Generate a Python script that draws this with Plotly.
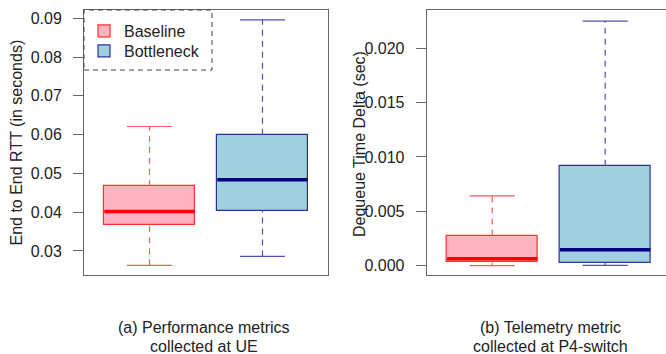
import plotly.graph_objects as go

# ---------------- data ----------------
groups = ["Baseline", "Bottleneck"]

# (a) End to End RTT (seconds)
rtt_lower = [0.0263, 0.0286]
rtt_q1 = [0.0367, 0.0404]
rtt_median = [0.0402, 0.0484]
rtt_q3 = [0.0468, 0.0600]
rtt_upper = [0.0621, 0.0896]

# (b) Dequeue time delta (seconds)
deq_lower = [0.0000, 0.00003]
deq_q1 = [0.0003, 0.00024]
deq_median = [0.00064, 0.00146]
deq_q3 = [0.00277, 0.0092]
deq_upper = [0.00643, 0.0225]

rtt_ticks = [0.03, 0.04, 0.05, 0.06, 0.07, 0.08, 0.09]
rtt_ticklabels = ["0.03", "0.04", "0.05", "0.06", "0.07", "0.08", "0.09"]
deq_ticks = [0.0, 0.005, 0.010, 0.015, 0.020]
deq_ticklabels = ["0.000", "0.005", "0.010", "0.015", "0.020"]

captions_a = ["(a) Performance metrics", "collected at UE"]
captions_b = ["(b) Telemetry metric", "collected at P4-switch"]
ytitle_a = "End to End RTT (in seconds)"
ytitle_b = "Dequeue Time Delta (sec)"

# ---------------- styles ----------------
W, H = 666, 354
FONT = "Liberation Sans, Arial, sans-serif"
TXT = "#222222"
FRAME = "#666666"
fills = ["#FFB3C1", "#A0CFE0"]
borders = ["#FF3030", "#30309A"]
whisk = ["#FF5A5A", "#5050B0"]
medians = ["#FF0000", "#000080"]
legend_ids = ["legend", "legend2"]
legend_tops = [14, 34]
BOXW = 0.8
CAPW = 0.4

fig = go.Figure()

def add_panel(xa, ya, lower, q1, med, q3, upper, legend):
    xs = [i + 1 for i in range(len(groups))]
    for i, g in enumerate(groups):
        x = xs[i]
        fig.add_trace(go.Bar(
            x=[x], y=[q3[i] - q1[i]], base=[q1[i]], width=BOXW,
            marker=dict(color=fills[i], line=dict(color=borders[i], width=1.2)),
            name=g, showlegend=legend, legend=legend_ids[i],
            xaxis=xa, yaxis=ya, hoverinfo="skip"))
        # whiskers (dashed)
        fig.add_trace(go.Scatter(
            x=[x, x, None, x, x], y=[q3[i], upper[i], None, lower[i], q1[i]],
            mode="lines", line=dict(color=whisk[i], width=1.2, dash="6px,5px"),
            showlegend=False, xaxis=xa, yaxis=ya, hoverinfo="skip"))
        # caps
        fig.add_trace(go.Scatter(
            x=[x - CAPW / 2, x + CAPW / 2, None, x - CAPW / 2, x + CAPW / 2],
            y=[upper[i], upper[i], None, lower[i], lower[i]],
            mode="lines", line=dict(color=whisk[i], width=1.2),
            showlegend=False, xaxis=xa, yaxis=ya, hoverinfo="skip"))
        # median
        fig.add_trace(go.Scatter(
            x=[x - BOXW / 2, x + BOXW / 2], y=[med[i], med[i]],
            mode="lines", line=dict(color=medians[i], width=3.5),
            showlegend=False, xaxis=xa, yaxis=ya, hoverinfo="skip"))

add_panel("x", "y", rtt_lower, rtt_q1, rtt_median, rtt_q3, rtt_upper, True)
add_panel("x2", "y2", deq_lower, deq_q1, deq_median, deq_q3, deq_upper, False)

def px_x(p):
    return p / W

def px_y(p):
    return 1 - p / H

ydom = [px_y(275), px_y(10)]
axis_common = dict(showgrid=False, zeroline=False, showline=True,
                   linecolor=FRAME, linewidth=1)
yaxis_common = dict(axis_common, ticks="outside", ticklen=10, tickcolor=FRAME,
                    tickwidth=1, ticklabelstandoff=8,
                    tickfont=dict(family=FONT, size=16, color=TXT))

legend_style = dict(xanchor="left", yanchor="top", bgcolor="rgba(0,0,0,0)",
                    borderwidth=0, font=dict(family=FONT, size=16, color=TXT),
                    itemwidth=30)

fig.update_layout(
    width=W, height=H, margin=dict(l=0, r=0, t=0, b=0),
    paper_bgcolor="white", plot_bgcolor="white",
    barmode="overlay", bargap=0,
    font=dict(family=FONT, size=16, color=TXT),
    xaxis=dict(axis_common, domain=[px_x(84), px_x(328)], range=[0.42, 2.58],
               mirror=True, showticklabels=False, ticks="", anchor="y"),
    xaxis2=dict(axis_common, domain=[px_x(426.7), 1.0],
                range=[0.42, 0.42 + (666 - 426.7) / (244 / 2.16)],
                mirror=True, showticklabels=False, ticks="", anchor="y2"),
    yaxis=dict(yaxis_common, domain=ydom, range=[0.02381, 0.09214],
               tickvals=rtt_ticks, ticktext=rtt_ticklabels, mirror=True, anchor="x"),
    yaxis2=dict(yaxis_common, domain=ydom, range=[-0.000856, 0.02352],
                tickvals=deq_ticks, ticktext=deq_ticklabels, mirror=False, anchor="x2"),
    legend=dict(legend_style, x=px_x(84), y=px_y(legend_tops[0])),
    legend2=dict(legend_style, x=px_x(84), y=px_y(legend_tops[1])),
    showlegend=True,
)

# dashed legend frame
fig.add_shape(type="rect", xref="paper", yref="paper",
              x0=px_x(84), x1=px_x(212), y0=px_y(70), y1=px_y(10),
              line=dict(color="#444444", width=1, dash="5px,4px"))

# axis titles
fig.add_annotation(text=ytitle_a, xref="paper", yref="paper", x=px_x(16), y=px_y(142.5),
                   textangle=-90, showarrow=False, xanchor="center", yanchor="middle",
                   font=dict(family=FONT, size=16, color=TXT))
fig.add_annotation(text=ytitle_b, xref="paper", yref="paper", x=px_x(359), y=px_y(144),
                   textangle=-90, showarrow=False, xanchor="center", yanchor="middle",
                   font=dict(family=FONT, size=16, color=TXT))

# captions
for cx, lines in ((204, captions_a), (550, captions_b)):
    for k, ly in enumerate((327, 346)):
        fig.add_annotation(text=lines[k], xref="paper", yref="paper",
                           x=px_x(cx), y=px_y(ly), showarrow=False,
                           xanchor="center", yanchor="middle",
                           font=dict(family=FONT, size=16, color=TXT))

fig.write_html("out.html", config={"displayModeBar": False},
               post_script="document.body.style.margin='0px';document.body.style.overflow='hidden';")
